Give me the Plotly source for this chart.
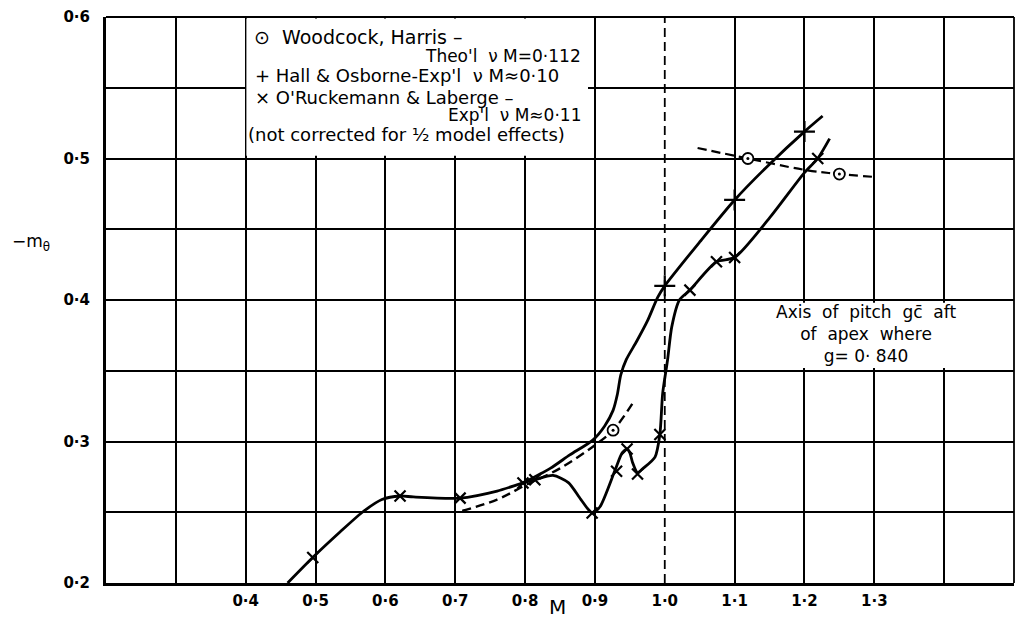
import plotly.graph_objects as go

# ---------------- data ----------------
# O'Ruckemann & Laberge - Exp'l (solid curve, x markers)
or_curve_M = [0.46, 0.496, 0.535, 0.567, 0.595, 0.621, 0.64, 0.707, 0.76, 0.797, 0.814,
              0.84, 0.862, 0.88, 0.896, 0.907, 0.929, 0.939, 0.946, 0.95, 0.954, 0.961,
              0.969, 0.986, 0.993, 0.997, 1.004, 1.010, 1.021, 1.036, 1.074, 1.1, 1.15,
              1.2, 1.219, 1.236]
or_curve_v = [0.2, 0.218, 0.236, 0.25, 0.259, 0.2615, 0.2608, 0.26, 0.265, 0.2707, 0.273,
              0.276, 0.271, 0.259, 0.2495, 0.2537, 0.28, 0.292, 0.2947, 0.292, 0.285, 0.278,
              0.281, 0.289, 0.305, 0.334, 0.3576, 0.381, 0.400, 0.407, 0.427, 0.43, 0.458,
              0.49, 0.5, 0.514]
or_pts_M = [0.496, 0.621, 0.707, 0.797, 0.814, 0.896, 0.931, 0.946, 0.961, 0.993, 1.036, 1.074, 1.1, 1.219]
or_pts_v = [0.218, 0.2615, 0.26, 0.2707, 0.273, 0.2495, 0.279, 0.2947, 0.277, 0.305, 0.407, 0.427, 0.43, 0.5]

# Hall & Osborne - Exp'l (solid curve, + markers)
ho_curve_M = [0.797, 0.836, 0.864, 0.897, 0.914, 0.926, 0.932, 0.937, 0.945, 0.96, 0.975,
              0.99, 1.0, 1.05, 1.1, 1.15, 1.2, 1.226]
ho_curve_v = [0.2707, 0.281, 0.2905, 0.301, 0.311, 0.322, 0.333, 0.347, 0.358, 0.371, 0.385,
              0.402, 0.41, 0.441, 0.4707, 0.496, 0.519, 0.53]
ho_pts_M = [1.0, 1.1, 1.2]
ho_pts_v = [0.41, 0.4707, 0.519]

# Woodcock, Harris - Theo'l (dashed, circle-dot markers)
wh_low_M = [0.71, 0.76, 0.8, 0.85, 0.896, 0.926, 0.954]
wh_low_v = [0.251, 0.259, 0.269, 0.281, 0.296, 0.308, 0.327]
wh_high_M = [1.047, 1.119, 1.2, 1.25, 1.299]
wh_high_v = [0.5074, 0.5, 0.492, 0.489, 0.487]
wh_pts_M = [0.926, 1.119, 1.25]
wh_pts_v = [0.308, 0.5, 0.489]

x_grid = [0.2, 0.3, 0.4, 0.5, 0.6, 0.7, 0.8, 0.9, 1.1, 1.2, 1.3, 1.4, 1.5]
x_ticks = [0.4, 0.5, 0.6, 0.7, 0.8, 0.9, 1.0, 1.1, 1.2, 1.3]
x_ticktext = ["0·4", "0·5", "0·6", "0·7", "0·8", "0·9", "1·0", "1·1", "1·2", "1·3"]
y_grid = [0.2, 0.25, 0.3, 0.35, 0.4, 0.45, 0.5, 0.55, 0.6]
y_ticks = [0.2, 0.3, 0.4, 0.5, 0.6]
y_ticktext = ["0·2", "0·3", "0·4", "0·5", "0·6"]

# ---------------- figure ----------------
W, H = 1021, 619
L, R, T, B = 106, 7, 17, 36
XR = (0.2, 1.5)
YR = (0.2, 0.6)
FONT = "DejaVu Sans"


def X(px):
    return XR[0] + (px - L) / (W - L - R) * (XR[1] - XR[0])


def PX(px):
    return (px - L) / (W - L - R)


def PY(py):
    return (H - B - py) / (H - T - B)


fig = go.Figure()

line_style = dict(color="black", width=2.8, shape="spline", smoothing=0.7)

fig.add_trace(go.Scatter(x=or_curve_M, y=or_curve_v, mode="lines", line=line_style,
                         hoverinfo="skip", showlegend=False))
fig.add_trace(go.Scatter(x=ho_curve_M, y=ho_curve_v, mode="lines", line=line_style,
                         hoverinfo="skip", showlegend=False))
fig.add_trace(go.Scatter(x=wh_low_M, y=wh_low_v, mode="lines",
                         line=dict(color="black", width=2.4, dash="9px,5px", shape="spline"),
                         hoverinfo="skip", showlegend=False))
fig.add_trace(go.Scatter(x=wh_high_M, y=wh_high_v, mode="lines",
                         line=dict(color="black", width=2.2, dash="9px,5px", shape="spline"),
                         hoverinfo="skip", showlegend=False))

fig.add_trace(go.Scatter(x=or_pts_M, y=or_pts_v, mode="markers",
                         marker=dict(symbol="x-thin", size=11, line=dict(color="black", width=2.2)),
                         showlegend=False))
fig.add_trace(go.Scatter(x=ho_pts_M, y=ho_pts_v, mode="markers",
                         marker=dict(symbol="cross-thin", size=15, line=dict(color="black", width=2.2)),
                         showlegend=False))
fig.add_trace(go.Scatter(x=wh_pts_M, y=wh_pts_v, mode="markers",
                         marker=dict(symbol="circle", size=11, color="white",
                                     line=dict(color="black", width=1.8)),
                         showlegend=False))
fig.add_trace(go.Scatter(x=wh_pts_M, y=wh_pts_v, mode="markers",
                         marker=dict(symbol="circle", size=3, color="black"),
                         showlegend=False))

shapes = []
# dashed M = 1.0 line
shapes.append(dict(type="line", xref="x", yref="y", x0=1.0, x1=1.0, y0=YR[0], y1=YR[1],
                   line=dict(color="black", width=1.8, dash="9px,5px"), layer="between"))
# legend white box
shapes.append(dict(type="rect", xref="x", yref="y", x0=0.401, x1=X(588), y0=0.502, y1=0.599,
                   fillcolor="white", line=dict(width=0), layer="between"))
# note white box
shapes.append(dict(type="rect", xref="x", yref="y", x0=X(742), x1=X(1008), y0=0.352, y1=0.398,
                   fillcolor="white", line=dict(width=0), layer="between"))
# top and right borders
shapes.append(dict(type="line", xref="paper", yref="paper", x0=0, x1=1, y0=1, y1=1,
                   line=dict(color="black", width=1.8)))
shapes.append(dict(type="line", xref="paper", yref="paper", x0=1, x1=1, y0=0, y1=1,
                   line=dict(color="black", width=1.8)))

annotations = []


def note(text, px, py, anchor="left", size=18, align="left"):
    annotations.append(dict(text=text, x=PX(px), y=PY(py), xref="paper", yref="paper",
                            xanchor=anchor, yanchor="middle", showarrow=False, align=align,
                            font=dict(family=FONT, size=size, color="black")))


note("⊙  Woodcock, Harris –", 252, 37, size=19)
note("Theo'l  ν M=0·112", 583, 56, anchor="right", size=17)
note("+ Hall & Osborne-Exp'l  ν M≈0·10", 253, 76, size=18)
note("× O'Ruckemann & Laberge –", 253, 97, size=18)
note("Exp'l  ν M≈0·11", 583, 115, anchor="right", size=17)
note("(not corrected for ½ model effects)", 246, 134, size=18)

note("Axis  of  pitch  gc̄  aft<br>of  apex  where<br>g= 0· 840", 866, 334,
     anchor="center", size=17, align="center")

note("−m<sub>θ</sub>", 31, 243, anchor="center", size=17)
note("M", 557, 607, anchor="center", size=20)

tick_font = dict(family=FONT, size=15, color="black", weight="bold")

fig.update_layout(
    width=W, height=H,
    margin=dict(l=L, r=R, t=T, b=B, pad=0),
    paper_bgcolor="white", plot_bgcolor="white",
    shapes=shapes, annotations=annotations,
    showlegend=False,
    font=dict(family=FONT, size=14, color="black"),
    xaxis=dict(range=list(XR), tickmode="array", tickvals=x_ticks, ticktext=x_ticktext,
               showgrid=False, zeroline=False, showline=True, linecolor="black", linewidth=3,
               ticks="", ticklabelstandoff=2, tickfont=tick_font,
               minor=dict(tickmode="array", tickvals=x_grid, showgrid=True,
                          gridcolor="black", gridwidth=1.6, ticks="")),
    yaxis=dict(range=list(YR), tickmode="array", tickvals=y_ticks, ticktext=y_ticktext,
               showgrid=True, gridcolor="black", gridwidth=1.6,
               zeroline=False, showline=True, linecolor="black", linewidth=3,
               ticks="", ticklabelstandoff=10, tickfont=tick_font,
               minor=dict(tickmode="array", tickvals=y_grid, showgrid=True,
                          gridcolor="black", gridwidth=1.6, ticks="")),
)

fig.write_html("out.html")
